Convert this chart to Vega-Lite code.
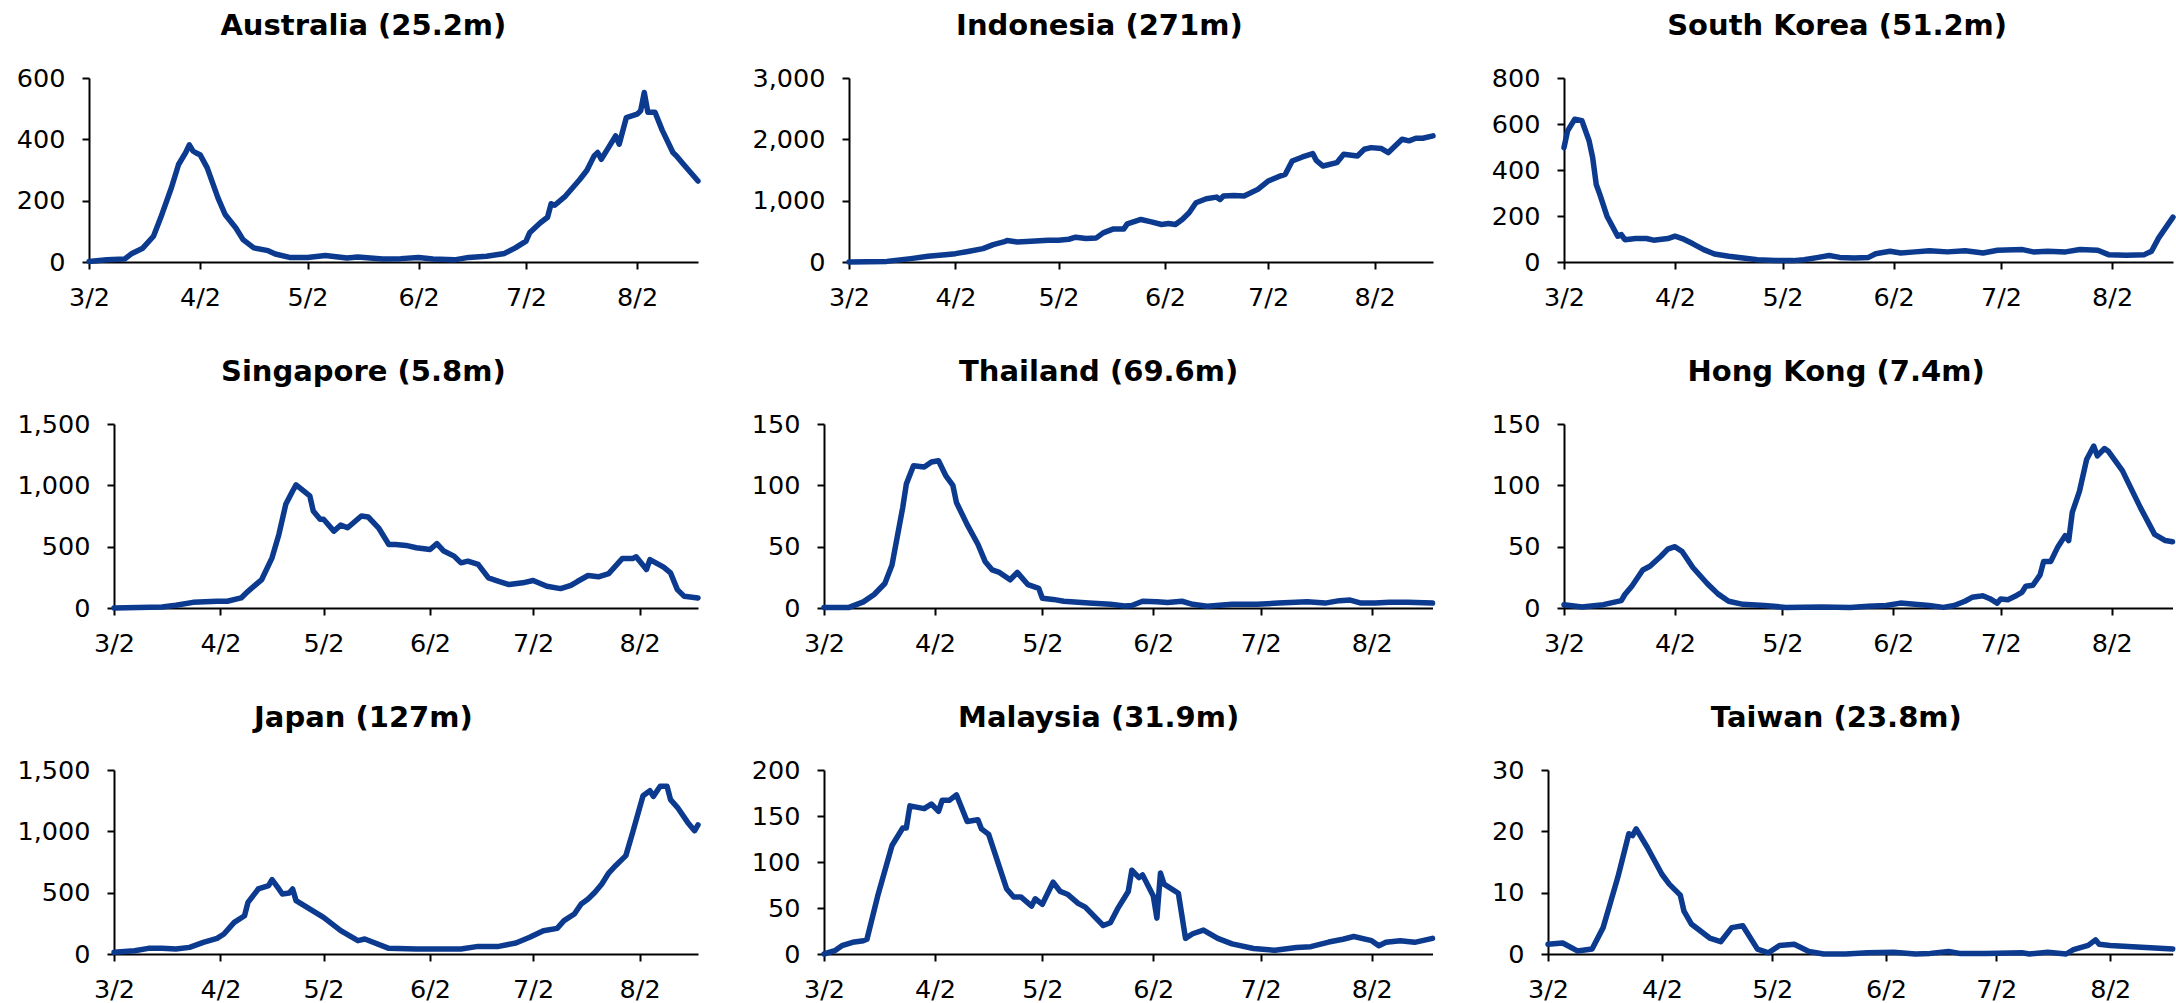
{
  "$schema": "https://vega.github.io/schema/vega-lite/v6.json",
  "background": "white",
  "padding": {"left": 13, "top": 12, "right": 0, "bottom": 0},
  "spacing": 47,
  "config": {
    "font": "DejaVu Sans",
    "view": {"stroke": null},
    "axis": {"grid": false, "domainColor": "black", "domainWidth": 2, "tickColor": "black", "tickWidth": 2, "tickSize": 7, "labelFont": "DejaVu Sans", "labelFontSize": 25.5, "labelColor": "black", "labelPadding": 17},
    "axisX": {"labelPadding": 16, "labelFlush": false, "labelOverlap": false},
    "title": {"font": "DejaVu Sans", "fontSize": 29, "fontWeight": "bold", "color": "black", "anchor": "middle", "frame": "bounds", "baseline": "alphabetic", "offset": 25, "dx": 6},
    "line": {"color": "#0b3a8f", "strokeWidth": 5.5, "strokeJoin": "round", "strokeCap": "round"}
  },
  "datasets": {
    "none": [],
    "au": [{"d":"2020-03-02","v":2},{"d":"2020-03-07","v":7},{"d":"2020-03-12","v":10},{"d":"2020-03-14","v":28},{"d":"2020-03-17","v":45},{"d":"2020-03-20","v":84},{"d":"2020-03-22","v":144},{"d":"2020-03-25","v":242},{"d":"2020-03-27","v":318},{"d":"2020-03-29","v":357},{"d":"2020-03-30","v":382},{"d":"2020-03-31","v":362},{"d":"2020-04-01","v":355},{"d":"2020-04-02","v":350},{"d":"2020-04-04","v":307},{"d":"2020-04-07","v":209},{"d":"2020-04-09","v":155},{"d":"2020-04-12","v":111},{"d":"2020-04-14","v":73},{"d":"2020-04-17","v":46},{"d":"2020-04-21","v":37},{"d":"2020-04-23","v":26},{"d":"2020-04-27","v":15},{"d":"2020-05-02","v":15},{"d":"2020-05-07","v":21},{"d":"2020-05-13","v":13},{"d":"2020-05-16","v":16},{"d":"2020-05-23","v":10},{"d":"2020-05-28","v":11},{"d":"2020-06-02","v":15},{"d":"2020-06-06","v":10},{"d":"2020-06-12","v":7},{"d":"2020-06-16","v":15},{"d":"2020-06-21","v":19},{"d":"2020-06-26","v":28},{"d":"2020-06-29","v":46},{"d":"2020-07-02","v":68},{"d":"2020-07-03","v":95},{"d":"2020-07-06","v":128},{"d":"2020-07-08","v":146},{"d":"2020-07-09","v":190},{"d":"2020-07-10","v":185},{"d":"2020-07-13","v":215},{"d":"2020-07-17","v":269},{"d":"2020-07-19","v":299},{"d":"2020-07-21","v":346},{"d":"2020-07-22","v":357},{"d":"2020-07-23","v":335},{"d":"2020-07-25","v":373},{"d":"2020-07-27","v":411},{"d":"2020-07-28","v":384},{"d":"2020-07-30","v":471},{"d":"2020-08-02","v":482},{"d":"2020-08-03","v":493},{"d":"2020-08-04","v":553},{"d":"2020-08-05","v":488},{"d":"2020-08-07","v":488},{"d":"2020-08-09","v":430},{"d":"2020-08-12","v":357},{"d":"2020-08-13","v":346},{"d":"2020-08-15","v":318},{"d":"2020-08-17","v":291},{"d":"2020-08-19","v":264}],
    "id": [{"d":"2020-03-02","v":0},{"d":"2020-03-13","v":10},{"d":"2020-03-20","v":55},{"d":"2020-03-25","v":93},{"d":"2020-03-30","v":120},{"d":"2020-04-02","v":136},{"d":"2020-04-06","v":175},{"d":"2020-04-10","v":218},{"d":"2020-04-13","v":284},{"d":"2020-04-16","v":327},{"d":"2020-04-17","v":349},{"d":"2020-04-20","v":327},{"d":"2020-04-24","v":338},{"d":"2020-04-29","v":355},{"d":"2020-05-02","v":355},{"d":"2020-05-05","v":371},{"d":"2020-05-07","v":404},{"d":"2020-05-10","v":382},{"d":"2020-05-13","v":393},{"d":"2020-05-15","v":475},{"d":"2020-05-18","v":540},{"d":"2020-05-21","v":540},{"d":"2020-05-22","v":622},{"d":"2020-05-26","v":693},{"d":"2020-05-29","v":655},{"d":"2020-06-01","v":611},{"d":"2020-06-03","v":627},{"d":"2020-06-05","v":611},{"d":"2020-06-07","v":693},{"d":"2020-06-09","v":802},{"d":"2020-06-11","v":965},{"d":"2020-06-14","v":1031},{"d":"2020-06-17","v":1058},{"d":"2020-06-18","v":1020},{"d":"2020-06-19","v":1075},{"d":"2020-06-22","v":1085},{"d":"2020-06-25","v":1075},{"d":"2020-06-29","v":1184},{"d":"2020-07-02","v":1320},{"d":"2020-07-05","v":1391},{"d":"2020-07-07","v":1429},{"d":"2020-07-09","v":1647},{"d":"2020-07-12","v":1713},{"d":"2020-07-15","v":1767},{"d":"2020-07-16","v":1658},{"d":"2020-07-18","v":1565},{"d":"2020-07-22","v":1620},{"d":"2020-07-24","v":1756},{"d":"2020-07-28","v":1729},{"d":"2020-07-30","v":1838},{"d":"2020-08-01","v":1865},{"d":"2020-08-04","v":1849},{"d":"2020-08-06","v":1784},{"d":"2020-08-10","v":2002},{"d":"2020-08-12","v":1975},{"d":"2020-08-14","v":2018},{"d":"2020-08-16","v":2018},{"d":"2020-08-19","v":2056}],
    "kr": [{"d":"2020-03-02","v":497},{"d":"2020-03-03","v":570},{"d":"2020-03-05","v":621},{"d":"2020-03-07","v":614},{"d":"2020-03-09","v":527},{"d":"2020-03-10","v":454},{"d":"2020-03-11","v":337},{"d":"2020-03-12","v":294},{"d":"2020-03-14","v":199},{"d":"2020-03-17","v":112},{"d":"2020-03-18","v":119},{"d":"2020-03-19","v":97},{"d":"2020-03-22","v":102},{"d":"2020-03-25","v":102},{"d":"2020-03-27","v":95},{"d":"2020-03-31","v":102},{"d":"2020-04-02","v":112},{"d":"2020-04-04","v":102},{"d":"2020-04-07","v":79},{"d":"2020-04-10","v":54},{"d":"2020-04-13","v":35},{"d":"2020-04-17","v":25},{"d":"2020-04-21","v":17},{"d":"2020-04-25","v":10},{"d":"2020-04-30","v":7},{"d":"2020-05-05","v":6},{"d":"2020-05-08","v":10},{"d":"2020-05-12","v":20},{"d":"2020-05-15","v":28},{"d":"2020-05-18","v":20},{"d":"2020-05-22","v":17},{"d":"2020-05-26","v":20},{"d":"2020-05-28","v":36},{"d":"2020-06-01","v":47},{"d":"2020-06-04","v":39},{"d":"2020-06-08","v":44},{"d":"2020-06-12","v":49},{"d":"2020-06-17","v":44},{"d":"2020-06-22","v":49},{"d":"2020-06-27","v":39},{"d":"2020-07-01","v":51},{"d":"2020-07-08","v":54},{"d":"2020-07-11","v":44},{"d":"2020-07-15","v":47},{"d":"2020-07-20","v":44},{"d":"2020-07-24","v":54},{"d":"2020-07-29","v":51},{"d":"2020-08-01","v":32},{"d":"2020-08-06","v":29},{"d":"2020-08-11","v":32},{"d":"2020-08-13","v":47},{"d":"2020-08-15","v":105},{"d":"2020-08-19","v":195}],
    "sg": [{"d":"2020-03-02","v":0},{"d":"2020-03-16","v":8},{"d":"2020-03-20","v":22},{"d":"2020-03-25","v":46},{"d":"2020-04-01","v":55},{"d":"2020-04-04","v":55},{"d":"2020-04-08","v":82},{"d":"2020-04-10","v":136},{"d":"2020-04-14","v":232},{"d":"2020-04-17","v":409},{"d":"2020-04-19","v":600},{"d":"2020-04-21","v":845},{"d":"2020-04-23","v":954},{"d":"2020-04-24","v":1004},{"d":"2020-04-28","v":914},{"d":"2020-04-29","v":791},{"d":"2020-05-01","v":723},{"d":"2020-05-02","v":723},{"d":"2020-05-05","v":627},{"d":"2020-05-07","v":676},{"d":"2020-05-09","v":654},{"d":"2020-05-13","v":750},{"d":"2020-05-15","v":742},{"d":"2020-05-18","v":654},{"d":"2020-05-21","v":518},{"d":"2020-05-23","v":518},{"d":"2020-05-26","v":510},{"d":"2020-05-29","v":491},{"d":"2020-06-02","v":477},{"d":"2020-06-04","v":524},{"d":"2020-06-06","v":464},{"d":"2020-06-09","v":423},{"d":"2020-06-11","v":368},{"d":"2020-06-13","v":382},{"d":"2020-06-16","v":355},{"d":"2020-06-19","v":245},{"d":"2020-06-22","v":218},{"d":"2020-06-25","v":191},{"d":"2020-06-29","v":205},{"d":"2020-07-02","v":224},{"d":"2020-07-06","v":177},{"d":"2020-07-10","v":158},{"d":"2020-07-13","v":185},{"d":"2020-07-15","v":218},{"d":"2020-07-18","v":265},{"d":"2020-07-21","v":254},{"d":"2020-07-24","v":281},{"d":"2020-07-28","v":404},{"d":"2020-07-31","v":404},{"d":"2020-08-01","v":417},{"d":"2020-08-04","v":314},{"d":"2020-08-05","v":395},{"d":"2020-08-09","v":333},{"d":"2020-08-11","v":286},{"d":"2020-08-13","v":150},{"d":"2020-08-15","v":95},{"d":"2020-08-19","v":82}],
    "th": [{"d":"2020-03-02","v":0.5},{"d":"2020-03-09","v":0.5},{"d":"2020-03-13","v":5},{"d":"2020-03-16","v":11},{"d":"2020-03-19","v":20},{"d":"2020-03-21","v":35},{"d":"2020-03-24","v":82},{"d":"2020-03-25","v":101},{"d":"2020-03-27","v":116},{"d":"2020-03-30","v":115},{"d":"2020-04-01","v":119},{"d":"2020-04-03","v":120},{"d":"2020-04-05","v":108},{"d":"2020-04-07","v":100},{"d":"2020-04-08","v":86},{"d":"2020-04-11","v":68},{"d":"2020-04-14","v":52},{"d":"2020-04-16","v":38},{"d":"2020-04-18","v":31},{"d":"2020-04-20","v":29},{"d":"2020-04-23","v":23},{"d":"2020-04-25","v":29},{"d":"2020-04-28","v":19},{"d":"2020-05-01","v":16},{"d":"2020-05-02","v":8},{"d":"2020-05-05","v":7},{"d":"2020-05-08","v":5.5},{"d":"2020-05-15","v":4},{"d":"2020-05-21","v":3},{"d":"2020-05-25","v":1.6},{"d":"2020-05-27","v":2},{"d":"2020-05-30","v":5.5},{"d":"2020-06-03","v":5},{"d":"2020-06-06","v":4.4},{"d":"2020-06-10","v":5.5},{"d":"2020-06-13","v":3},{"d":"2020-06-17","v":1.4},{"d":"2020-06-24","v":3},{"d":"2020-07-01","v":3},{"d":"2020-07-07","v":4},{"d":"2020-07-15","v":5},{"d":"2020-07-20","v":4},{"d":"2020-07-24","v":6},{"d":"2020-07-27","v":6.5},{"d":"2020-07-30","v":4},{"d":"2020-08-03","v":4},{"d":"2020-08-07","v":4.6},{"d":"2020-08-12","v":4.6},{"d":"2020-08-19","v":4}],
    "hk": [{"d":"2020-03-02","v":2.7},{"d":"2020-03-07","v":0.8},{"d":"2020-03-13","v":2.7},{"d":"2020-03-18","v":6},{"d":"2020-03-19","v":11},{"d":"2020-03-21","v":18},{"d":"2020-03-24","v":31},{"d":"2020-03-26","v":34},{"d":"2020-03-29","v":42},{"d":"2020-03-31","v":48},{"d":"2020-04-02","v":50},{"d":"2020-04-04","v":46},{"d":"2020-04-07","v":33},{"d":"2020-04-11","v":20},{"d":"2020-04-14","v":11.5},{"d":"2020-04-17","v":5.5},{"d":"2020-04-21","v":3},{"d":"2020-04-27","v":2},{"d":"2020-05-03","v":0.5},{"d":"2020-05-13","v":0.8},{"d":"2020-05-21","v":0.5},{"d":"2020-05-26","v":1.4},{"d":"2020-05-31","v":2},{"d":"2020-06-04","v":4},{"d":"2020-06-08","v":3},{"d":"2020-06-12","v":2},{"d":"2020-06-16","v":0.5},{"d":"2020-06-19","v":2},{"d":"2020-06-22","v":5.5},{"d":"2020-06-24","v":8.7},{"d":"2020-06-26","v":9.5},{"d":"2020-06-27","v":10},{"d":"2020-06-29","v":7.6},{"d":"2020-07-01","v":4},{"d":"2020-07-02","v":7.4},{"d":"2020-07-04","v":6.8},{"d":"2020-07-06","v":9.5},{"d":"2020-07-08","v":13},{"d":"2020-07-09","v":17.7},{"d":"2020-07-11","v":18.5},{"d":"2020-07-13","v":27},{"d":"2020-07-14","v":38},{"d":"2020-07-16","v":38},{"d":"2020-07-18","v":50},{"d":"2020-07-20","v":59},{"d":"2020-07-21","v":55},{"d":"2020-07-22","v":78},{"d":"2020-07-24","v":95},{"d":"2020-07-26","v":121},{"d":"2020-07-28","v":132},{"d":"2020-07-29","v":124},{"d":"2020-07-31","v":130},{"d":"2020-08-01","v":128},{"d":"2020-08-05","v":112},{"d":"2020-08-07","v":100},{"d":"2020-08-10","v":82},{"d":"2020-08-12","v":71},{"d":"2020-08-14","v":60},{"d":"2020-08-17","v":55},{"d":"2020-08-19","v":54}],
    "jp": [{"d":"2020-03-02","v":14},{"d":"2020-03-08","v":27},{"d":"2020-03-12","v":46},{"d":"2020-03-16","v":46},{"d":"2020-03-20","v":41},{"d":"2020-03-24","v":54},{"d":"2020-03-28","v":95},{"d":"2020-04-01","v":128},{"d":"2020-04-03","v":163},{"d":"2020-04-06","v":258},{"d":"2020-04-09","v":312},{"d":"2020-04-10","v":421},{"d":"2020-04-13","v":530},{"d":"2020-04-16","v":557},{"d":"2020-04-17","v":606},{"d":"2020-04-19","v":530},{"d":"2020-04-20","v":489},{"d":"2020-04-22","v":497},{"d":"2020-04-23","v":530},{"d":"2020-04-24","v":435},{"d":"2020-05-02","v":299},{"d":"2020-05-07","v":190},{"d":"2020-05-12","v":109},{"d":"2020-05-14","v":122},{"d":"2020-05-21","v":46},{"d":"2020-05-29","v":41},{"d":"2020-06-11","v":41},{"d":"2020-06-16","v":62},{"d":"2020-06-22","v":62},{"d":"2020-06-27","v":90},{"d":"2020-07-01","v":136},{"d":"2020-07-05","v":190},{"d":"2020-07-09","v":209},{"d":"2020-07-11","v":272},{"d":"2020-07-14","v":326},{"d":"2020-07-16","v":408},{"d":"2020-07-18","v":448},{"d":"2020-07-20","v":503},{"d":"2020-07-22","v":571},{"d":"2020-07-24","v":660},{"d":"2020-07-26","v":720},{"d":"2020-07-29","v":802},{"d":"2020-07-31","v":992},{"d":"2020-08-03","v":1291},{"d":"2020-08-05","v":1331},{"d":"2020-08-06","v":1285},{"d":"2020-08-08","v":1367},{"d":"2020-08-10","v":1367},{"d":"2020-08-11","v":1258},{"d":"2020-08-13","v":1196},{"d":"2020-08-16","v":1073},{"d":"2020-08-18","v":1005},{"d":"2020-08-19","v":1052}],
    "my": [{"d":"2020-03-02","v":0},{"d":"2020-03-05","v":3.6},{"d":"2020-03-07","v":9},{"d":"2020-03-10","v":12.7},{"d":"2020-03-13","v":14.5},{"d":"2020-03-14","v":16},{"d":"2020-03-17","v":63},{"d":"2020-03-21","v":118},{"d":"2020-03-24","v":137},{"d":"2020-03-25","v":137},{"d":"2020-03-26","v":161},{"d":"2020-03-30","v":158},{"d":"2020-04-01","v":163},{"d":"2020-04-03","v":155},{"d":"2020-04-04","v":167},{"d":"2020-04-06","v":167},{"d":"2020-04-08","v":173},{"d":"2020-04-11","v":144},{"d":"2020-04-14","v":146},{"d":"2020-04-15","v":136},{"d":"2020-04-17","v":130},{"d":"2020-04-22","v":71},{"d":"2020-04-24","v":62},{"d":"2020-04-26","v":62},{"d":"2020-04-29","v":52},{"d":"2020-04-30","v":60},{"d":"2020-05-02","v":54},{"d":"2020-05-05","v":78},{"d":"2020-05-07","v":68},{"d":"2020-05-09","v":65},{"d":"2020-05-12","v":55},{"d":"2020-05-14","v":51},{"d":"2020-05-19","v":31},{"d":"2020-05-21","v":34},{"d":"2020-05-23","v":49},{"d":"2020-05-26","v":68},{"d":"2020-05-27","v":91},{"d":"2020-05-29","v":83},{"d":"2020-05-30","v":86},{"d":"2020-06-02","v":63},{"d":"2020-06-03","v":39},{"d":"2020-06-04","v":88},{"d":"2020-06-05","v":76},{"d":"2020-06-09","v":66},{"d":"2020-06-11","v":17},{"d":"2020-06-13","v":22},{"d":"2020-06-16","v":26},{"d":"2020-06-20","v":17},{"d":"2020-06-24","v":11},{"d":"2020-06-30","v":6},{"d":"2020-07-06","v":4},{"d":"2020-07-12","v":7},{"d":"2020-07-16","v":8},{"d":"2020-07-21","v":13},{"d":"2020-07-25","v":16},{"d":"2020-07-28","v":19},{"d":"2020-08-02","v":14.5},{"d":"2020-08-04","v":9},{"d":"2020-08-06","v":12.7},{"d":"2020-08-10","v":14.5},{"d":"2020-08-14","v":12.7},{"d":"2020-08-19","v":17}],
    "tw": [{"d":"2020-03-02","v":1.6},{"d":"2020-03-06","v":1.8},{"d":"2020-03-10","v":0.5},{"d":"2020-03-14","v":0.8},{"d":"2020-03-17","v":4.3},{"d":"2020-03-19","v":8.4},{"d":"2020-03-21","v":12.5},{"d":"2020-03-24","v":19.6},{"d":"2020-03-25","v":19.3},{"d":"2020-03-26","v":20.4},{"d":"2020-03-29","v":17.4},{"d":"2020-03-31","v":15.2},{"d":"2020-04-02","v":13},{"d":"2020-04-04","v":11.4},{"d":"2020-04-07","v":9.6},{"d":"2020-04-08","v":7},{"d":"2020-04-10","v":4.9},{"d":"2020-04-15","v":2.6},{"d":"2020-04-18","v":2},{"d":"2020-04-21","v":4.3},{"d":"2020-04-24","v":4.6},{"d":"2020-04-28","v":0.8},{"d":"2020-05-01","v":0.2},{"d":"2020-05-04","v":1.4},{"d":"2020-05-08","v":1.6},{"d":"2020-05-12","v":0.4},{"d":"2020-05-16","v":0},{"d":"2020-05-22","v":0},{"d":"2020-05-28","v":0.2},{"d":"2020-06-04","v":0.3},{"d":"2020-06-10","v":0},{"d":"2020-06-14","v":0.1},{"d":"2020-06-19","v":0.4},{"d":"2020-06-22","v":0.1},{"d":"2020-06-29","v":0.1},{"d":"2020-07-09","v":0.2},{"d":"2020-07-11","v":0},{"d":"2020-07-16","v":0.3},{"d":"2020-07-21","v":0},{"d":"2020-07-23","v":0.7},{"d":"2020-07-27","v":1.4},{"d":"2020-07-29","v":2.3},{"d":"2020-07-30","v":1.6},{"d":"2020-08-02","v":1.4},{"d":"2020-08-19","v":0.8}]
  },
  "vconcat": [
    {"spacing": 50, "hconcat": [
      {"spacing": 0, "hconcat": [
        {"width": 1, "height": 1, "data": {"name": "none"}, "mark": "point", "encoding": {}},
        {"title": "Australia (25.2m)", "width": 609, "height": 184, "data": {"name": "au"}, "mark": "line",
         "encoding": {
           "x": {"field": "d", "type": "temporal", "title": null, "scale": {"type": "utc", "nice": false, "domain": [{"year": 2020, "month": 3, "date": 2, "utc": true}, {"year": 2020, "month": 8, "date": 19, "utc": true}]}, "axis": {"format": "%-m/%-d", "values": [{"year": 2020, "month": 3, "date": 2, "utc": true}, {"year": 2020, "month": 4, "date": 2, "utc": true}, {"year": 2020, "month": 5, "date": 2, "utc": true}, {"year": 2020, "month": 6, "date": 2, "utc": true}, {"year": 2020, "month": 7, "date": 2, "utc": true}, {"year": 2020, "month": 8, "date": 2, "utc": true}]}},
           "y": {"field": "v", "type": "quantitative", "title": null, "scale": {"domain": [0, 600], "nice": false}, "axis": {"values": [0, 200, 400, 600], "format": ",d", "minExtent": 75, "maxExtent": 75}}}}
      ]},
      {"title": "Indonesia (271m)", "width": 584, "height": 184, "data": {"name": "id"}, "mark": "line",
       "encoding": {
         "x": {"field": "d", "type": "temporal", "title": null, "scale": {"type": "utc", "nice": false, "domain": [{"year": 2020, "month": 3, "date": 2, "utc": true}, {"year": 2020, "month": 8, "date": 19, "utc": true}]}, "axis": {"format": "%-m/%-d", "values": [{"year": 2020, "month": 3, "date": 2, "utc": true}, {"year": 2020, "month": 4, "date": 2, "utc": true}, {"year": 2020, "month": 5, "date": 2, "utc": true}, {"year": 2020, "month": 6, "date": 2, "utc": true}, {"year": 2020, "month": 7, "date": 2, "utc": true}, {"year": 2020, "month": 8, "date": 2, "utc": true}]}},
         "y": {"field": "v", "type": "quantitative", "title": null, "scale": {"domain": [0, 3000], "nice": false}, "axis": {"values": [0, 1000, 2000, 3000], "format": ",d", "minExtent": 98, "maxExtent": 98}}}},
      {"title": "South Korea (51.2m)", "width": 609, "height": 184, "data": {"name": "kr"}, "mark": "line",
       "encoding": {
         "x": {"field": "d", "type": "temporal", "title": null, "scale": {"type": "utc", "nice": false, "domain": [{"year": 2020, "month": 3, "date": 2, "utc": true}, {"year": 2020, "month": 8, "date": 19, "utc": true}]}, "axis": {"format": "%-m/%-d", "values": [{"year": 2020, "month": 3, "date": 2, "utc": true}, {"year": 2020, "month": 4, "date": 2, "utc": true}, {"year": 2020, "month": 5, "date": 2, "utc": true}, {"year": 2020, "month": 6, "date": 2, "utc": true}, {"year": 2020, "month": 7, "date": 2, "utc": true}, {"year": 2020, "month": 8, "date": 2, "utc": true}]}},
         "y": {"field": "v", "type": "quantitative", "title": null, "scale": {"domain": [0, 800], "nice": false}, "axis": {"values": [0, 200, 400, 600, 800], "format": ",d", "minExtent": 77.5, "maxExtent": 77.5}}}}
    ]},
    {"spacing": 49, "hconcat": [
      {"spacing": 0, "hconcat": [
        {"width": 1, "height": 1, "data": {"name": "none"}, "mark": "point", "encoding": {}},
        {"title": "Singapore (5.8m)", "width": 584, "height": 184, "data": {"name": "sg"}, "mark": "line",
         "encoding": {
           "x": {"field": "d", "type": "temporal", "title": null, "scale": {"type": "utc", "nice": false, "domain": [{"year": 2020, "month": 3, "date": 2, "utc": true}, {"year": 2020, "month": 8, "date": 19, "utc": true}]}, "axis": {"format": "%-m/%-d", "values": [{"year": 2020, "month": 3, "date": 2, "utc": true}, {"year": 2020, "month": 4, "date": 2, "utc": true}, {"year": 2020, "month": 5, "date": 2, "utc": true}, {"year": 2020, "month": 6, "date": 2, "utc": true}, {"year": 2020, "month": 7, "date": 2, "utc": true}, {"year": 2020, "month": 8, "date": 2, "utc": true}]}},
           "y": {"field": "v", "type": "quantitative", "title": null, "scale": {"domain": [0, 1500], "nice": false}, "axis": {"values": [0, 500, 1000, 1500], "format": ",d", "minExtent": 100, "maxExtent": 100}}}}
      ]},
      {"title": "Thailand (69.6m)", "width": 608.5, "height": 184, "data": {"name": "th"}, "mark": "line",
       "encoding": {
         "x": {"field": "d", "type": "temporal", "title": null, "scale": {"type": "utc", "nice": false, "domain": [{"year": 2020, "month": 3, "date": 2, "utc": true}, {"year": 2020, "month": 8, "date": 19, "utc": true}]}, "axis": {"format": "%-m/%-d", "values": [{"year": 2020, "month": 3, "date": 2, "utc": true}, {"year": 2020, "month": 4, "date": 2, "utc": true}, {"year": 2020, "month": 5, "date": 2, "utc": true}, {"year": 2020, "month": 6, "date": 2, "utc": true}, {"year": 2020, "month": 7, "date": 2, "utc": true}, {"year": 2020, "month": 8, "date": 2, "utc": true}]}},
         "y": {"field": "v", "type": "quantitative", "title": null, "scale": {"domain": [0, 150], "nice": false}, "axis": {"values": [0, 50, 100, 150], "format": ",d", "minExtent": 74, "maxExtent": 74}}}},
      {"title": "Hong Kong (7.4m)", "width": 608.5, "height": 184, "data": {"name": "hk"}, "mark": "line",
       "encoding": {
         "x": {"field": "d", "type": "temporal", "title": null, "scale": {"type": "utc", "nice": false, "domain": [{"year": 2020, "month": 3, "date": 2, "utc": true}, {"year": 2020, "month": 8, "date": 19, "utc": true}]}, "axis": {"format": "%-m/%-d", "values": [{"year": 2020, "month": 3, "date": 2, "utc": true}, {"year": 2020, "month": 4, "date": 2, "utc": true}, {"year": 2020, "month": 5, "date": 2, "utc": true}, {"year": 2020, "month": 6, "date": 2, "utc": true}, {"year": 2020, "month": 7, "date": 2, "utc": true}, {"year": 2020, "month": 8, "date": 2, "utc": true}]}},
         "y": {"field": "v", "type": "quantitative", "title": null, "scale": {"domain": [0, 150], "nice": false}, "axis": {"values": [0, 50, 100, 150], "format": ",d", "minExtent": 79, "maxExtent": 79}}}}
    ]},
    {"spacing": 49, "hconcat": [
      {"spacing": 0, "hconcat": [
        {"width": 1, "height": 1, "data": {"name": "none"}, "mark": "point", "encoding": {}},
        {"title": "Japan (127m)", "width": 584, "height": 184, "data": {"name": "jp"}, "mark": "line",
         "encoding": {
           "x": {"field": "d", "type": "temporal", "title": null, "scale": {"type": "utc", "nice": false, "domain": [{"year": 2020, "month": 3, "date": 2, "utc": true}, {"year": 2020, "month": 8, "date": 19, "utc": true}]}, "axis": {"format": "%-m/%-d", "values": [{"year": 2020, "month": 3, "date": 2, "utc": true}, {"year": 2020, "month": 4, "date": 2, "utc": true}, {"year": 2020, "month": 5, "date": 2, "utc": true}, {"year": 2020, "month": 6, "date": 2, "utc": true}, {"year": 2020, "month": 7, "date": 2, "utc": true}, {"year": 2020, "month": 8, "date": 2, "utc": true}]}},
           "y": {"field": "v", "type": "quantitative", "title": null, "scale": {"domain": [0, 1500], "nice": false}, "axis": {"values": [0, 500, 1000, 1500], "format": ",d", "minExtent": 100, "maxExtent": 100}}}}
      ]},
      {"title": "Malaysia (31.9m)", "width": 608.5, "height": 184, "data": {"name": "my"}, "mark": "line",
       "encoding": {
         "x": {"field": "d", "type": "temporal", "title": null, "scale": {"type": "utc", "nice": false, "domain": [{"year": 2020, "month": 3, "date": 2, "utc": true}, {"year": 2020, "month": 8, "date": 19, "utc": true}]}, "axis": {"format": "%-m/%-d", "values": [{"year": 2020, "month": 3, "date": 2, "utc": true}, {"year": 2020, "month": 4, "date": 2, "utc": true}, {"year": 2020, "month": 5, "date": 2, "utc": true}, {"year": 2020, "month": 6, "date": 2, "utc": true}, {"year": 2020, "month": 7, "date": 2, "utc": true}, {"year": 2020, "month": 8, "date": 2, "utc": true}]}},
         "y": {"field": "v", "type": "quantitative", "title": null, "scale": {"domain": [0, 200], "nice": false}, "axis": {"values": [0, 50, 100, 150, 200], "format": ",d", "minExtent": 74, "maxExtent": 74}}}},
      {"title": "Taiwan (23.8m)", "width": 624.7, "height": 184, "data": {"name": "tw"}, "mark": "line",
       "encoding": {
         "x": {"field": "d", "type": "temporal", "title": null, "scale": {"type": "utc", "nice": false, "domain": [{"year": 2020, "month": 3, "date": 2, "utc": true}, {"year": 2020, "month": 8, "date": 19, "utc": true}]}, "axis": {"format": "%-m/%-d", "values": [{"year": 2020, "month": 3, "date": 2, "utc": true}, {"year": 2020, "month": 4, "date": 2, "utc": true}, {"year": 2020, "month": 5, "date": 2, "utc": true}, {"year": 2020, "month": 6, "date": 2, "utc": true}, {"year": 2020, "month": 7, "date": 2, "utc": true}, {"year": 2020, "month": 8, "date": 2, "utc": true}]}},
         "y": {"field": "v", "type": "quantitative", "title": null, "scale": {"domain": [0, 30], "nice": false}, "axis": {"values": [0, 10, 20, 30], "format": ",d", "minExtent": 62.8, "maxExtent": 62.8}}}}
    ]}
  ]
}
